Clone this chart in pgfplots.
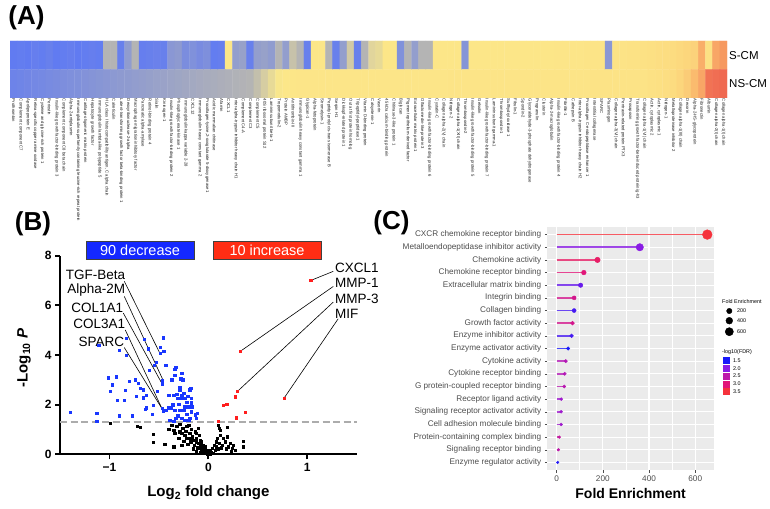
\documentclass[border=0pt]{standalone}
\usepackage{pgfplots}
\pgfplotsset{compat=1.18}
\usepackage{pgfplotstable}
\usepackage{fontspec}
\setmainfont{Liberation Sans}

\newcommand{\fsz}[2]{\fontsize{#1}{#2}\selectfont}

\definecolor{bluept}{RGB}{25,55,255}
\definecolor{redpt}{RGB}{255,30,30}
\definecolor{boxblue}{RGB}{20,40,255}
\definecolor{boxred}{RGB}{255,45,20}
\definecolor{ggbg}{RGB}{235,235,235}
\definecolor{ggtext}{RGB}{77,77,77}
% segment colours, read off the -log10(FDR) scale
\definecolor{f150}{RGB}{25,25,250}
\definecolor{f155}{RGB}{36,25,248}
\definecolor{f170}{RGB}{70,26,241}
\definecolor{f185}{RGB}{104,27,235}
\definecolor{f200}{RGB}{138,28,228}
\definecolor{f220}{RGB}{159,26,205}
\definecolor{f240}{RGB}{180,25,182}
\definecolor{f245}{RGB}{185,24,176}
\definecolor{f250}{RGB}{190,24,170}
\definecolor{f260}{RGB}{197,24,160}
\definecolor{f280}{RGB}{211,23,140}
\definecolor{f300}{RGB}{225,22,120}
\definecolor{f315}{RGB}{231,30,102}
\definecolor{f355}{RGB}{245,50,60}

\pgfplotsset{
  colormap={hmap}{rgb255(0cm)=(85,115,250); rgb255(1cm)=(109,131,233);
    rgb255(2cm)=(133,148,215); rgb255(3cm)=(156,164,198);
    rgb255(4cm)=(180,180,180); rgb255(5cm)=(218,208,160);
    rgb255(6cm)=(252,232,138); rgb255(7cm)=(252,220,128);
    rgb255(8cm)=(250,187,110); rgb255(9cm)=(245,144,93);
    rgb255(10cm)=(238,95,78)},
  colormap={fdrmap}{rgb255(0cm)=(25,25,250); rgb255(1cm)=(138,28,228);
    rgb255(2cm)=(190,24,170); rgb255(3cm)=(225,22,120);
    rgb255(4cm)=(245,50,60)},
  seg/.style={line width=1.8pt, opacity=0.8, forget plot},
}

% volcano plot, significant down
\pgfplotstableread{
x y
-1.11 4.40
-0.83 4.68
-0.90 4.20
-0.83 3.98
-0.65 4.65
-0.61 4.25
-1.01 3.09
-0.93 3.13
-0.97 2.80
-0.99 2.53
-0.92 2.19
-0.85 2.19
-0.84 2.57
-0.90 1.56
-0.77 1.56
-1.13 1.65
-1.13 1.34
-1.40 1.69
-0.74 3.00
-0.71 2.86
-0.73 2.33
-0.69 2.66
-0.66 2.60
-0.63 2.39
-0.63 1.88
-0.64 1.81
-0.56 1.99
-0.60 3.40
-0.55 3.60
-0.53 3.71
-0.49 4.07
-0.49 4.31
-0.46 4.70
-0.45 4.14
-0.47 2.96
-0.465 2.82
-0.43 3.60
-0.43 1.79
-0.47 1.85
-0.455 1.75
-0.40 1.88
-0.38 1.85
-0.37 3.00
-0.34 3.44
-0.33 3.52
-0.34 3.20
-0.39 1.38
-0.35 1.34
-0.35 2.37
-0.32 2.42
-0.31 2.26
-0.30 2.03
-0.29 2.69
-0.29 2.60
-0.28 3.04
-0.27 3.27
-0.26 3.00
-0.27 2.39
-0.27 2.26
-0.25 2.46
-0.24 2.26
-0.25 1.79
-0.24 1.92
-0.34 1.79
-0.33 1.45
-0.29 1.79
-0.27 1.45
-0.24 1.38
-0.22 1.61
-0.20 1.92
-0.19 2.60
-0.18 2.66
-0.17 2.26
-0.19 1.45
-0.20 1.38
-0.17 1.72
-0.16 1.92
-0.13 1.59
-0.12 1.45
-0.11 1.65
-0.17 2.08
-0.22 2.10
-0.66 2.28
-0.52 2.53
-0.40 2.39
-0.57 1.62
-0.80 2.95
-0.36 2.00
-0.31 1.55
-0.21 2.35
}\datadown

% significant up
\pgfplotstableread{
x y
1.034 7.00
0.32 4.14
0.293 2.53
0.765 2.26
0.27 2.32
0.186 2.03
0.15 1.99
0.37 1.69
0.28 1.47
0.10 1.33
}\dataup

% not significant
\pgfplotstableread{
x y
-0.99 1.25
-0.72 1.12
-0.69 1.08
-0.56 0.81
-0.56 0.48
-0.44 0.40
-0.35 0.31
-0.40 1.02
-0.37 1.18
-0.35 0.98
-0.32 1.12
-0.29 1.21
-0.27 0.85
-0.26 1.05
-0.24 0.78
-0.23 0.94
-0.22 1.12
-0.20 1.18
-0.19 0.65
-0.19 0.85
-0.18 0.51
-0.17 1.02
-0.16 0.71
-0.15 0.58
-0.14 0.38
-0.13 0.91
-0.12 0.51
-0.12 0.65
-0.11 0.27
-0.10 1.05
-0.10 0.44
-0.09 0.78
-0.08 0.24
-0.08 0.58
-0.08 0.38
-0.07 0.17
-0.07 0.51
-0.06 0.31
-0.05 0.11
-0.05 0.38
-0.04 0.22
-0.03 0.04
-0.03 0.31
-0.02 0.13
-0.02 0.07
-0.01 0.00
-0.01 0.17
0.00 0.04
0.01 0.11
0.02 0.03
0.02 0.17
0.03 0.08
0.04 0.24
0.05 0.05
0.06 0.38
0.07 0.17
0.08 0.51
0.08 0.31
0.09 0.65
0.10 0.22
0.11 0.44
0.12 0.78
0.12 0.98
0.13 0.27
0.14 0.38
0.15 0.65
0.17 0.51
0.18 0.22
0.19 0.71
0.19 1.08
0.20 0.31
0.22 0.44
0.23 0.13
0.24 0.24
0.25 0.38
0.27 0.17
0.35 0.54
0.35 0.31
0.11 1.05
0.10 1.18
-0.34 0.85
-0.30 0.65
-0.25 0.54
-0.21 0.40
-0.15 0.22
-0.12 0.13
-0.08 0.08
-0.27 0.38
-0.22 0.65
-0.12 0.85
-0.29 0.91
}\datans

% GO enrichment
\pgfplotstableread{
y fe fdr
1 652 3.55
2 360 2.00
3 177 3.15
4 118 3.00
5 104 1.85
6 76 2.80
7 76 1.70
8 69 2.80
9 65 1.70
10 50 1.50
11 40 2.40
12 35 2.40
13 33 2.45
14 20 2.20
15 20 2.20
16 20 2.20
17 12 2.60
18 8 2.50
19 5 1.55
}\datac

\begin{document}
\begin{tikzpicture}
\useasboundingbox (0,0) rectangle (770pt,508pt);

% ---------------- (A) heatmap ----------------
% matrix plot puts row 0 on top: row 0 = S-CM, row 1 = NS-CM
\begin{axis}[
  at={(10pt,410pt)}, anchor=south west, scale only axis,
  width=717pt, height=57pt,
  xmin=-0.5, xmax=99.5, ymin=-0.5, ymax=1.5,
  axis line style={draw=none}, major tick length=0pt,
  xtick={0,...,99},
  xticklabels={Prothrombin,Complement component C7,Apolipoprotein E,
    Retina-specific copper amine oxidase,Cysteine and glycine-rich protein 1,
    Periostin,Insulin-like growth factor-binding protein 3,
    Complement component C8 beta chain,Alpha-2-antiplasmin,
    Immunoglobulin superfamily containing leucine-rich repeat protein,
    Cartilage oligomeric matrix protein,Hepatocyte growth factor,
    Immunoglobulin lambda-like polypeptide 5,
    {HLA class I histocompatibility antigen, C alpha chain},Calreticulin,
    Latent-transforming growth factor beta-binding protein 1,
    Deoxyribonuclease-2-alpha,Macrophage migration inhibitory factor,
    Pancreatic alpha-amylase,Retinol-binding protein 4,Sialin,Kininogen-1,
    Insulin-like growth factor-binding protein 2,Phosphoglycerate kinase 1,
    Immunoglobulin kappa variable 2-28,CXCL12,
    Immunoglobulin heavy constant gamma 2,
    {Procollagen-lysine,2-oxoglutarate 5-dioxygenase 1},
    Acidic mammalian chitinase,Afamin,CXCL1,
    Inter-alpha-trypsin inhibitor heavy chain H1,Complement C4-A,
    Complement C3,Complement C5,40S ribosomal protein S12,
    Laminin subunit beta-1,Tropomodulin-2,Protein AMBP,Antithrombin-III,
    Immunoglobulin heavy constant gamma 1,Glypican-1,Alpha-fetoprotein,
    Stromelysin-1,Peptidyl-prolyl cis-trans isomerase B,Serpin H1,
    Dickkopf-related protein 1,Out at first protein homolog,
    Tripeptidyl-peptidase 1,Vitamin D-binding protein,Calsyntenin-1,Vasorin,
    45 kDa calcium-binding protein,Chitinase-3-like protein 1,Biglycan,
    Pigment epithelium-derived factor,Extracellular matrix protein 1,
    Olfactomedin-like protein 3,Insulin-like growth factor-binding protein 6,
    Cystatin-C,Collagen alpha-2(V) chain,Nidogen-2,
    Collagen alpha-1(XII) chain,Thrombospondin-2,
    Insulin-like growth factor-binding protein 5,Gelsolin,
    Insulin-like growth factor-binding protein 7,Laminin subunit gamma-1,
    Thrombospondin-1,Sulfhydryl oxidase 1,Fibulin-1,Spondin-2,
    Glyceraldehyde-3-phosphate dehydrogenase,Progranulin,Clusterin,
    Alpha-2-macroglobulin,Insulin-like growth factor-binding protein 4,
    Fibrillin-1,Cathepsin B,Inter-alpha-trypsin inhibitor heavy chain H2,
    Procollagen C-endopeptidase enhancer 1,Interstitial collagenase,SPARC,
    Plasminogen,Collagen alpha-3(VI) chain,Pentraxin-related protein PTX3,
    Prosaposin,Transforming growth factor-beta-induced protein ig-h3,
    Collagen alpha-1(VI) chain,{Actin, cytoplasmic 2},{Actin, cytoplasmic 1},
    Nidogen-1,Metalloproteinase inhibitor 2,Collagen alpha-1(III) chain,
    Decorin,Alpha-2-HS-glycoprotein,Fibronectin,Albumin,
    Collagen alpha-2(I) chain,Collagen alpha-1(I) chain},
  xticklabel style={rotate=-90, anchor=west, font=\fsz{4.2}{5},
    inner sep=0.8pt, text=black!90},
  ytick={0,1}, yticklabels={S-CM,NS-CM}, yticklabel pos=right,
  yticklabel style={font=\fsz{11.5}{13}, inner sep=2pt},
  colormap name=hmap, point meta min=0, point meta max=10,
]
\addplot[matrix plot, mesh/cols=100, point meta=explicit] coordinates {
(0,0)[0.5] (1,0)[0.6] (2,0)[0.5] (3,0)[0.7] (4,0)[0.6] (5,0)[0.8] (6,0)[0.5] (7,0)[0.6] (8,0)[0.7] (9,0)[0.5]
(10,0)[0.6] (11,0)[0.7] (12,0)[0.6] (13,0)[4.0] (14,0)[4.0] (15,0)[0.8] (16,0)[2.5] (17,0)[4.0] (18,0)[0.7] (19,0)[0.8]
(20,0)[0.9] (21,0)[0.8] (22,0)[2.2] (23,0)[2.4] (24,0)[1.6] (25,0)[1.8] (26,0)[1.5] (27,0)[1.7] (28,0)[0.6] (29,0)[0.7]
(30,0)[6.2] (31,0)[2.6] (32,0)[2.8] (33,0)[0.8] (34,0)[2.6] (35,0)[2.8] (36,0)[2.5] (37,0)[4.0] (38,0)[2.6] (39,0)[4.5]
(40,0)[4.0] (41,0)[0.8] (42,0)[6.2] (43,0)[6.2] (44,0)[4.0] (45,0)[0.8] (46,0)[2.6] (47,0)[4.8] (48,0)[0.8] (49,0)[4.0]
(50,0)[5.2] (51,0)[5.4] (52,0)[6.2] (53,0)[6.2] (54,0)[1.8] (55,0)[4.0] (56,0)[2.6] (57,0)[4.0] (58,0)[4.0] (59,0)[6.2]
(60,0)[6.2] (61,0)[6.2] (62,0)[6.2] (63,0)[2.0] (64,0)[6.2] (65,0)[6.2] (66,0)[6.2] (67,0)[6.2] (68,0)[6.2] (69,0)[6.2]
(70,0)[6.2] (71,0)[6.2] (72,0)[6.2] (73,0)[6.2] (74,0)[6.2] (75,0)[6.2] (76,0)[6.25] (77,0)[6.25] (78,0)[6.25] (79,0)[6.25]
(80,0)[6.3] (81,0)[6.3] (82,0)[6.3] (83,0)[2.2] (84,0)[6.4] (85,0)[6.4] (86,0)[6.5] (87,0)[6.5] (88,0)[6.6] (89,0)[6.7]
(90,0)[6.8] (91,0)[6.9] (92,0)[7.0] (93,0)[7.1] (94,0)[7.2] (95,0)[7.3] (96,0)[8.3] (97,0)[6.6] (98,0)[8.5] (99,0)[8.8]
(0,1)[1.0] (1,1)[1.1] (2,1)[1.2] (3,1)[1.3] (4,1)[1.35] (5,1)[1.45] (6,1)[1.55] (7,1)[1.65] (8,1)[1.75] (9,1)[1.8]
(10,1)[1.9] (11,1)[2.0] (12,1)[2.1] (13,1)[2.2] (14,1)[2.3] (15,1)[2.4] (16,1)[2.45] (17,1)[2.55] (18,1)[2.65] (19,1)[2.75]
(20,1)[2.85] (21,1)[2.9] (22,1)[3.0] (23,1)[3.1] (24,1)[3.2] (25,1)[3.3] (26,1)[3.4] (27,1)[3.5] (28,1)[3.55] (29,1)[3.65]
(30,1)[3.75] (31,1)[3.85] (32,1)[3.9] (33,1)[4.0] (34,1)[4.4] (35,1)[4.9] (36,1)[5.4] (37,1)[5.9] (38,1)[6.1] (39,1)[6.2]
(40,1)[6.25] (41,1)[6.25] (42,1)[6.25] (43,1)[6.25] (44,1)[6.25] (45,1)[6.25] (46,1)[6.25] (47,1)[6.25] (48,1)[6.25] (49,1)[6.25]
(50,1)[6.25] (51,1)[6.25] (52,1)[6.25] (53,1)[6.25] (54,1)[6.25] (55,1)[6.25] (56,1)[6.25] (57,1)[6.25] (58,1)[6.25] (59,1)[6.25]
(60,1)[6.25] (61,1)[6.3] (62,1)[6.3] (63,1)[6.3] (64,1)[6.3] (65,1)[6.3] (66,1)[6.3] (67,1)[6.3] (68,1)[6.3] (69,1)[6.3]
(70,1)[6.3] (71,1)[6.3] (72,1)[6.3] (73,1)[6.3] (74,1)[6.3] (75,1)[6.3] (76,1)[6.3] (77,1)[6.3] (78,1)[6.3] (79,1)[6.3]
(80,1)[6.3] (81,1)[6.4] (82,1)[6.4] (83,1)[6.4] (84,1)[6.4] (85,1)[6.4] (86,1)[6.4] (87,1)[6.4] (88,1)[6.4] (89,1)[6.6]
(90,1)[6.7] (91,1)[6.8] (92,1)[7.0] (93,1)[7.2] (94,1)[7.5] (95,1)[8.0] (96,1)[8.5] (97,1)[9.6] (98,1)[9.7] (99,1)[9.8]
};
\end{axis}

% ---------------- (B) volcano ----------------
\begin{axis}[
  at={(60pt,53.7pt)}, anchor=south west, scale only axis,
  width=296.7pt, height=198.6pt,
  xmin=-1.5, xmax=1.5, ymin=0, ymax=8,
  axis lines=left, axis line style={line width=1.8pt, -},
  xtick={-1,0,1}, xticklabels={−1,0,1},
  ytick={0,2,4,6,8},
  tick style={line width=1.8pt, black}, major tick length=5pt,
  tick align=outside,
  ticklabel style={font=\bfseries\fsz{12}{14}},
  /pgf/number format/assume math mode=true,
  xlabel={Log\textsubscript{2} fold change},
  ylabel={-Log\textsubscript{10} \textit{P}},
  xlabel style={font=\bfseries\fsz{15}{17}, at={(axis description cs:0.5,-0.195)}, anchor=center},
  ylabel style={font=\bfseries\fsz{15}{17}, at={(axis description cs:-0.121,0.485)}, anchor=center},
  clip=false,
]
\addplot[gray!65, line width=1.8pt, dash pattern=on 7pt off 3.5pt] coordinates {(-1.5,1.3) (1.5,1.3)};
\addplot[only marks, mark=square*, mark size=1.15pt, black] table[x=x,y=y] {\datans};
\addplot[only marks, mark=square*, mark size=1.15pt, bluept] table[x=x,y=y] {\datadown};
\addplot[only marks, mark=square*, mark size=1.15pt, redpt] table[x=x,y=y] {\dataup};

\begin{scope}[line width=0.6pt]
\draw (axis cs:-0.85,6.97) -- (axis cs:-0.49,4.07);
\draw (axis cs:-0.85,6.36) -- (axis cs:-0.455,2.96);
\draw (axis cs:-0.86,5.69) -- (axis cs:-0.465,2.82);
\draw (axis cs:-0.84,5.01) -- (axis cs:-0.47,1.85);
\draw (axis cs:-0.85,4.30) -- (axis cs:-0.455,1.75);
\draw (axis cs:1.263,7.37) -- (axis cs:1.034,7.0);
\draw (axis cs:1.263,6.76) -- (axis cs:0.32,4.14);
\draw (axis cs:1.263,6.13) -- (axis cs:0.293,2.53);
\draw (axis cs:1.313,5.46) -- (axis cs:0.765,2.26);
\end{scope}
\begin{scope}[every node/.style={font=\fsz{13.5}{15}, inner sep=0pt}]
\node[anchor=east] at (axis cs:-0.84,7.23) {TGF-Beta};
\node[anchor=east] at (axis cs:-0.84,6.60) {Alpha-2M};
\node[anchor=east] at (axis cs:-0.86,5.91) {COL1A1};
\node[anchor=east] at (axis cs:-0.84,5.24) {COL3A1};
\node[anchor=east] at (axis cs:-0.85,4.54) {SPARC};
\node[anchor=west] at (axis cs:1.28,7.53) {CXCL1};
\node[anchor=west] at (axis cs:1.28,6.90) {MMP-1};
\node[anchor=west] at (axis cs:1.28,6.26) {MMP-3};
\node[anchor=west] at (axis cs:1.28,5.65) {MIF};
\end{scope}
\end{axis}

% ---------------- (C) GO lollipop ----------------
\begin{axis}[
  at={(547.3pt,38pt)}, anchor=south west, scale only axis,
  width=166.7pt, height=243pt,
  xmin=-40, xmax=681, ymin=0.4, ymax=19.6, y dir=reverse,
  axis background/.style={fill=ggbg},
  axis line style={draw=none},
  xtick={0,200,400,600}, minor xtick={100,300,500},
  ytick={1,...,19},
  yticklabels={CXCR chemokine receptor binding,
    Metalloendopeptidase inhibitor activity,Chemokine activity,
    Chemokine receptor binding,Extracellular matrix binding,
    Integrin binding,Collagen binding,Growth factor activity,
    Enzyme inhibitor activity,Enzyme activator activity,Cytokine activity,
    Cytokine receptor binding,G protein-coupled receptor binding,
    Receptor ligand activity,Signaling receptor activator activity,
    Cell adhesion molecule binding,Protein-containing complex binding,
    Signaling receptor binding,Enzyme regulator activity},
  grid=both, major grid style={white, line width=1.1pt},
  minor grid style={white, line width=0.55pt},
  tick style={ggtext, line width=0.5pt}, major tick length=2.5pt,
  minor tick length=0pt, tick align=outside, tick pos=left,
  ticklabel style={font=\fsz{8.2}{9}, text=ggtext},
  /pgf/number format/assume math mode=true,
  xlabel={Fold Enrichment},
  xlabel style={font=\bfseries\fsz{14}{16}, at={(axis description cs:0.5,-0.095)}, anchor=center},
  colormap name=fdrmap, point meta min=1.5, point meta max=3.5,
]
\addplot[seg, f355] coordinates {(0,1) (652,1)};
\addplot[seg, f200] coordinates {(0,2) (360,2)};
\addplot[seg, f315] coordinates {(0,3) (177,3)};
\addplot[seg, f300] coordinates {(0,4) (118,4)};
\addplot[seg, f185] coordinates {(0,5) (104,5)};
\addplot[seg, f280] coordinates {(0,6) (76,6)};
\addplot[seg, f170] coordinates {(0,7) (76,7)};
\addplot[seg, f280] coordinates {(0,8) (69,8)};
\addplot[seg, f170] coordinates {(0,9) (65,9)};
\addplot[seg, f150] coordinates {(0,10) (50,10)};
\addplot[seg, f240] coordinates {(0,11) (40,11)};
\addplot[seg, f240] coordinates {(0,12) (35,12)};
\addplot[seg, f245] coordinates {(0,13) (33,13)};
\addplot[seg, f220] coordinates {(0,14) (20,14)};
\addplot[seg, f220] coordinates {(0,15) (20,15)};
\addplot[seg, f220] coordinates {(0,16) (20,16)};
\addplot[seg, f260] coordinates {(0,17) (12,17)};
\addplot[seg, f250] coordinates {(0,18) (8,18)};
\addplot[seg, f155] coordinates {(0,19) (5,19)};
\addplot[scatter, only marks, mark=*, point meta=\thisrow{fdr},
  scatter/use mapped color={draw=mapped color, fill=mapped color},
  visualization depends on={sqrt(1.5+0.034*\thisrow{fe}) \as \rad},
  scatter/@pre marker code/.append style={/tikz/mark size=\rad pt}]
  table[x=fe, y=y] {\datac};
\end{axis}

% ---------------- (C) legends ----------------
\begin{axis}[
  at={(718pt,108pt)}, anchor=south west, scale only axis,
  width=52pt, height=110pt,
  xmin=718, xmax=770, ymin=108, ymax=218, hide axis, clip=false,
  colormap name=fdrmap, point meta min=1.5, point meta max=3.5,
]
\addplot[only marks, mark=*, black, mark size=2.7pt] coordinates {(729.3,197)};
\addplot[only marks, mark=*, black, mark size=3.4pt] coordinates {(729.3,187.3)};
\addplot[only marks, mark=*, black, mark size=4.1pt] coordinates {(729.3,176.3)};
\addplot[scatter, only marks, mark=square*, mark size=3pt, point meta=explicit,
  scatter/use mapped color={draw=mapped color, fill=mapped color}]
  coordinates {(726,147.3)[1.5] (726,139.7)[2.0] (726,132)[2.5] (726,124)[3.0] (726,116.3)[3.5]};
\begin{scope}[every node/.style={font=\fsz{5.4}{6}, inner sep=0pt, anchor=west}]
\node at (axis cs:722,206.3) {Fold Enrichment};
\node at (axis cs:737,197) {200};
\node at (axis cs:737,187.3) {400};
\node at (axis cs:737,176.3) {600};
\node at (axis cs:722,156.3) {-log10(FDR)};
\node at (axis cs:733,147.3) {1.5};
\node at (axis cs:733,139.7) {2.0};
\node at (axis cs:733,132) {2.5};
\node at (axis cs:733,124) {3.0};
\node at (axis cs:733,116.3) {3.5};
\end{scope}
\end{axis}

% ---------------- panel letters and count boxes ----------------
\node[font=\bfseries\fsz{26}{28}] at (26.5pt,490.5pt) {(A)};
\node[font=\bfseries\fsz{26}{28}] at (33pt,284pt) {(B)};
\node[font=\bfseries\fsz{26}{28}] at (391.5pt,285pt) {(C)};
\node[fill=boxblue, draw=gray!50!black, line width=0.6pt, text=white,
  minimum width=108pt, minimum height=18pt, inner sep=0pt,
  font=\fsz{14.5}{16}] at (140pt,258pt) {90 decrease};
\node[fill=boxred, draw=gray!50!black, line width=0.6pt, text=white,
  minimum width=108pt, minimum height=18pt, inner sep=0pt,
  font=\fsz{14.5}{16}] at (267pt,258pt) {10 increase};
\end{tikzpicture}
\end{document}
